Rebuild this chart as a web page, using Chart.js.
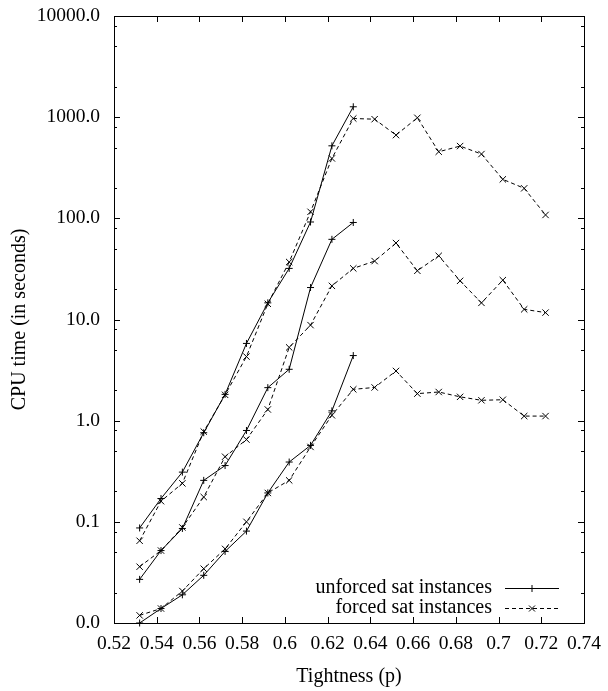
<!DOCTYPE html>
<html>
<head>
<meta charset="utf-8">
<script src="https://cdn.jsdelivr.net/npm/chart.js@4.4.1/dist/chart.umd.min.js"></script>
<style>
  html, body { margin: 0; padding: 0; background: #fff; }
  canvas { display: block; }
</style>
</head>
<body>
<canvas id="cpuChart" width="608" height="691"></canvas>
<script>
// tightness values where instances were measured
const tightness = [0.532, 0.542, 0.552, 0.562, 0.572, 0.582, 0.592, 0.602, 0.612, 0.622,
                   0.632, 0.642, 0.652, 0.662, 0.672, 0.682, 0.692, 0.702, 0.712, 0.722];

// unforced sat instances (only up to 0.632)
const unforcedHigh = [0.087, 0.17, 0.31, 0.76, 1.82, 5.8, 14.6, 32, 92, 521, 1267];
const unforcedMid  = [0.027, 0.052, 0.086, 0.257, 0.36, 0.80, 2.12, 3.22, 20.7, 62, 91];
const unforcedLow  = [0.01, 0.0139, 0.019, 0.0296, 0.051, 0.081, 0.193, 0.39, 0.57, 1.25, 4.4];

// forced sat instances
const forcedHigh = [0.065, 0.16, 0.24, 0.78, 1.8, 4.3, 14.3, 37, 116, 391,
                    970, 955, 665, 986, 455, 518, 432, 243, 198, 108];
const forcedMid  = [0.036, 0.052, 0.088, 0.176, 0.44, 0.65, 1.29, 5.3, 8.8, 21.5,
                    32, 37.8, 57, 30.3, 42.6, 24.1, 14.6, 24.5, 12.6, 11.7];
const forcedLow  = [0.0119, 0.0139, 0.0207, 0.0344, 0.054, 0.1, 0.193, 0.257, 0.55, 1.13,
                    2.04, 2.13, 3.1, 1.85, 1.92, 1.72, 1.59, 1.61, 1.11, 1.11];

const xTicks = [0.52, 0.54, 0.56, 0.58, 0.6, 0.62, 0.64, 0.66, 0.68, 0.7, 0.72, 0.74];
const yTicks = [0.01, 0.1, 1, 10, 100, 1000, 10000];
const yMinorFactors = [2, 5, 8];

const legendLabels = ['unforced sat instances', 'forced sat instances'];

const FONT = "'Liberation Serif', 'Times New Roman', serif";

function toPoints(values) {
    return values.map(function(v, i) { return { x: tightness[i], y: v }; });
}

function makeSet(label, values, forced) {
    return {
        label: label,
        data: toPoints(values),
        borderColor: '#000',
        backgroundColor: '#000',
        borderWidth: 1,
        borderDash: forced ? [4, 3] : [],
        pointStyle: forced ? 'crossRot' : 'cross',
        pointRadius: forced ? 4.5 : 3.5,
        pointBorderColor: '#000',
        pointBorderWidth: 1,
        tension: 0,
        fill: false,
        clip: false
    };
}

// gnuplot-like frame, inward ticks and legend
const framePlugin = {
    id: 'frame',
    afterDraw: function(chart) {
        const ctx = chart.ctx;
        const area = chart.chartArea;
        const xs = chart.scales.x;
        const ys = chart.scales.y;
        ctx.save();
        ctx.strokeStyle = '#000';
        ctx.lineWidth = 1;
        ctx.setLineDash([]);
        ctx.strokeRect(Math.round(area.left) + 0.5, Math.round(area.top) + 0.5,
                       Math.round(area.right - area.left), Math.round(area.bottom - area.top));

        ctx.beginPath();
        xTicks.forEach(function(v) {
            const px = Math.round(xs.getPixelForValue(v)) + 0.5;
            ctx.moveTo(px, area.bottom); ctx.lineTo(px, area.bottom - 6);
            ctx.moveTo(px, area.top); ctx.lineTo(px, area.top + 6);
        });
        yTicks.forEach(function(v, i) {
            const py = Math.round(ys.getPixelForValue(v)) + 0.5;
            ctx.moveTo(area.left, py); ctx.lineTo(area.left + 6, py);
            ctx.moveTo(area.right, py); ctx.lineTo(area.right - 6, py);
            if (i < yTicks.length - 1) {
                yMinorFactors.forEach(function(f) {
                    const my = Math.round(ys.getPixelForValue(v * f)) + 0.5;
                    ctx.moveTo(area.left, my); ctx.lineTo(area.left + 3, my);
                    ctx.moveTo(area.right, my); ctx.lineTo(area.right - 3, my);
                });
            }
        });
        ctx.stroke();

        // legend
        ctx.font = '20px ' + FONT;
        ctx.fillStyle = '#000';
        ctx.textAlign = 'right';
        ctx.textBaseline = 'middle';
        const rows = [588, 608];
        legendLabels.forEach(function(text, i) {
            const y = rows[i] + 0.5;
            ctx.fillText(text, 492, rows[i]);
            ctx.beginPath();
            ctx.setLineDash(i === 1 ? [4, 3] : []);
            ctx.moveTo(505, y); ctx.lineTo(559, y);
            ctx.stroke();
            ctx.setLineDash([]);
            ctx.beginPath();
            if (i === 0) {
                ctx.moveTo(532, y - 3.5); ctx.lineTo(532, y + 3.5);
                ctx.moveTo(528.5, y); ctx.lineTo(535.5, y);
            } else {
                ctx.moveTo(529, y - 3); ctx.lineTo(535, y + 3);
                ctx.moveTo(529, y + 3); ctx.lineTo(535, y - 3);
            }
            ctx.stroke();
        });
        ctx.restore();
    }
};

const ctx = document.getElementById('cpuChart').getContext('2d');
new Chart(ctx, {
    type: 'line',
    data: {
        datasets: [
            makeSet(legendLabels[0], unforcedHigh, false),
            makeSet(legendLabels[1], forcedHigh, true),
            makeSet(legendLabels[0], unforcedMid, false),
            makeSet(legendLabels[1], forcedMid, true),
            makeSet(legendLabels[0], unforcedLow, false),
            makeSet(legendLabels[1], forcedLow, true)
        ]
    },
    options: {
        responsive: false,
        animation: false,
        devicePixelRatio: 1,
        layout: { padding: { top: 16, right: 24, left: 0, bottom: 0 } },
        plugins: {
            legend: { display: false },
            tooltip: { enabled: false }
        },
        scales: {
            x: {
                type: 'linear',
                min: 0.52,
                max: 0.74,
                grid: { display: false, drawTicks: false },
                border: { display: false },
                afterBuildTicks: function(scale) {
                    scale.ticks = xTicks.map(function(v) { return { value: v }; });
                },
                afterFit: function(scale) {
                    scale.height = 68;
                    scale.paddingLeft = 0;
                    scale.paddingRight = 0;
                },
                ticks: {
                    color: '#000',
                    font: { family: FONT, size: 19.5 },
                    padding: 9,
                    maxRotation: 0,
                    autoSkip: false,
                    callback: function(v) { return String(parseFloat(Number(v).toFixed(2))); }
                },
                title: {
                    display: true,
                    text: 'Tightness (p)',
                    color: '#000',
                    font: { family: FONT, size: 20 },
                    padding: { top: 0, bottom: 2 }
                }
            },
            y: {
                type: 'logarithmic',
                min: 0.01,
                max: 10000,
                grid: { display: false, drawTicks: false },
                border: { display: false },
                afterBuildTicks: function(scale) {
                    scale.ticks = yTicks.map(function(v) { return { value: v }; });
                },
                afterFit: function(scale) {
                    scale.width = 114;
                    scale.paddingTop = 0;
                    scale.paddingBottom = 0;
                },
                ticks: {
                    color: '#000',
                    font: { family: FONT, size: 19.5 },
                    padding: 14,
                    autoSkip: false,
                    callback: function(v) { return Number(v).toFixed(1); }
                },
                title: {
                    display: true,
                    text: 'CPU time (in seconds)',
                    color: '#000',
                    font: { family: FONT, size: 20 },
                    padding: { top: 8, bottom: 0 }
                }
            }
        }
    },
    plugins: [framePlugin]
});
</script>
</body>
</html>
